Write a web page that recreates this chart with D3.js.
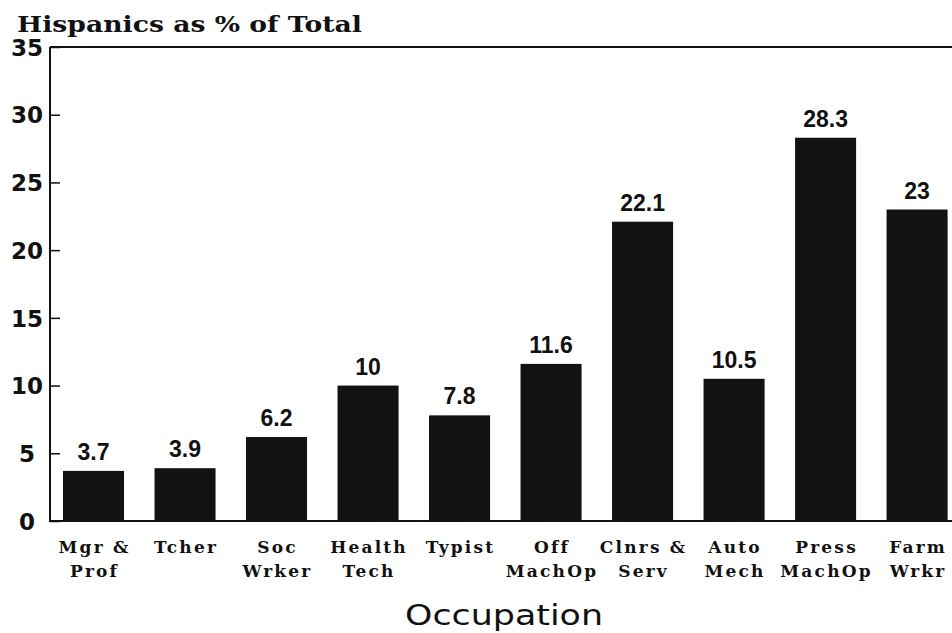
<!DOCTYPE html>
<html>
<head>
<meta charset="utf-8">
<script src="https://cdn.jsdelivr.net/npm/d3@7/dist/d3.min.js"></script>
<style>
  html, body { margin: 0; padding: 0; background: #fff; }
  svg { display: block; }
</style>
</head>
<body>
<svg id="chart" width="952" height="633"></svg>
<script>
const categories = [
  ["Mgr &", "Prof"], ["Tcher", ""], ["Soc", "Wrker"], ["Health", "Tech"], ["Typist", ""],
  ["Off", "MachOp"], ["Clnrs &", "Serv"], ["Auto", "Mech"], ["Press", "MachOp"], ["Farm", "Wrkr"]
];
const values = [3.7, 3.9, 6.2, 10, 7.8, 11.6, 22.1, 10.5, 28.3, 23];
const yTicks = [0, 5, 10, 15, 20, 25, 30, 35];
const titleText = "Hispanics as % of Total";
const xTitleText = "Occupation";

(function () {
const svg = d3.select("#chart");
const W = 952;
const mLeft = 50, mTop = 47, mBottom = 521;

const y = d3.scaleLinear().domain([0, 35]).range([mBottom, mTop]);
const x = d3.scaleBand().domain(d3.range(categories.length)).range([63, 947.6])
  .paddingInner(0.333).paddingOuter(0);

// bars
svg.append("g").selectAll("rect").data(values).join("rect")
  .attr("x", (d, i) => x(i))
  .attr("y", d => y(d))
  .attr("width", x.bandwidth())
  .attr("height", d => y(0) - y(d))
  .attr("fill", "#121212");

// frame
const frame = svg.append("g").attr("stroke", "#111").attr("stroke-width", 2).attr("fill", "none");
frame.append("line").attr("x1", mLeft).attr("x2", W).attr("y1", mTop).attr("y2", mTop);
frame.append("line").attr("x1", mLeft).attr("x2", mLeft).attr("y1", mTop).attr("y2", mBottom + 1);
frame.append("line").attr("x1", mLeft).attr("x2", W).attr("y1", mBottom).attr("y2", mBottom);

// y axis
const yAxis = svg.append("g").attr("transform", `translate(${mLeft},0)`)
  .call(d3.axisLeft(y).tickValues(yTicks).tickSizeInner(-10).tickSizeOuter(0).tickFormat(d => String(d)));
yAxis.select(".domain").remove();
yAxis.selectAll(".tick line").attr("stroke", "#111").attr("stroke-width", 1.5);
yAxis.selectAll(".tick text")
  .attr("x", -23).attr("dy", "0.36em")
  .attr("text-anchor", "middle")
  .attr("fill", "#111")
  .style("font-family", "'DejaVu Sans', sans-serif")
  .style("font-weight", "bold")
  .style("font-size", "23px");

// value labels
svg.append("g").selectAll("text").data(values).join("text")
  .attr("x", (d, i) => x(i) + x.bandwidth() / 2)
  .attr("y", d => y(d) - 11)
  .attr("text-anchor", "middle")
  .attr("fill", "#111")
  .style("font-family", "'Liberation Sans', Arial, sans-serif")
  .style("font-weight", "bold")
  .style("font-size", "23px")
  .text(d => String(d));

// category labels
const cat = svg.append("g").selectAll("text").data(categories).join("text")
  .attr("text-anchor", "middle")
  .attr("fill", "#111")
  .style("font-family", "'DejaVu Serif', serif")
  .style("font-weight", "bold")
  .style("font-size", "17px")
  .style("letter-spacing", "2.2px");
cat.append("tspan")
  .attr("x", (d, i) => x(i) + x.bandwidth() / 2 + 1)
  .attr("y", 553)
  .text(d => d[0]);
cat.append("tspan")
  .attr("x", (d, i) => x(i) + x.bandwidth() / 2 + 1)
  .attr("y", 577)
  .text(d => d[1]);

// title
svg.append("text")
  .attr("x", 17).attr("y", 32)
  .attr("fill", "#111")
  .attr("textLength", 345).attr("lengthAdjust", "spacingAndGlyphs")
  .style("font-family", "'DejaVu Serif', serif")
  .style("font-weight", "bold")
  .style("font-size", "22px")
  .text(titleText);

// x title
svg.append("text")
  .attr("x", 405).attr("y", 625)
  .attr("fill", "#111")
  .attr("textLength", 198).attr("lengthAdjust", "spacingAndGlyphs")
  .style("font-family", "'DejaVu Sans', sans-serif")
  .style("font-size", "29px")
  .text(xTitleText);
})();
</script>
</body>
</html>
